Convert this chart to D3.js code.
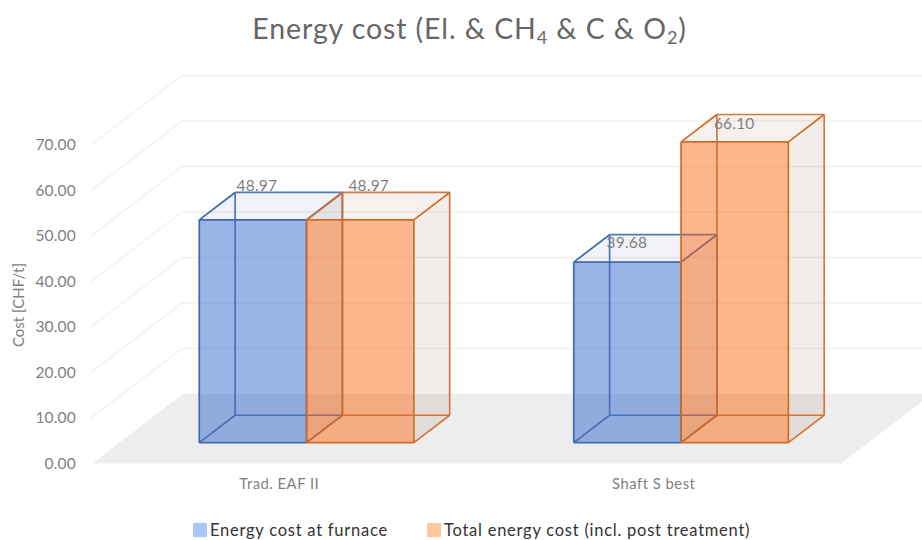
<!DOCTYPE html>
<html>
<head>
<meta charset="utf-8">
<script src="https://d3js.org/d3.v7.min.js"></script>
<style>
	html, body { margin: 0; padding: 0; background: #fff; }
	svg { display: block; font-family: Lato, "Open Sans", sans-serif; }
	.tick text { fill: #7f7f7f; }
</style>
</head>
<body>
<div id="chart"></div>
<script>

// data
const categories = ["Trad. EAF II", "Shaft S best"];
const seriesNames = ["Energy cost at furnace", "Total energy cost (incl. post treatment)"];
const furnaceCost = [48.97, 39.68];
const totalCost = [48.97, 66.10];
const yTicks = [0, 10, 20, 30, 40, 50, 60, 70];

const seriesValues = [furnaceCost, totalCost];

// one look per series: legend swatch, front fill, shaded faces, edges
const looks = [
	{swatch: "#a9c7f8", fill: "#1e5ccc", shade: "#2a4a90", edge: "#4069b4"},
	{swatch: "#fdc89f", fill: "#fd5d00", shade: "#7a3a10", edge: "#d06c2a"}
];

const width = 922, height = 540;

// floor of the 3d plot: front left corner, and how far the depth axis runs
const floor = {left: 92, right: 841, front: 463.5, depthX: 91, depthY: 69.5};
const barDepth = {front: 0.3, back: 0.694};

const svg = d3.select("#chart").append("svg")
	.attr("width", width)
	.attr("height", height);

const x = d3.scaleBand()
	.domain(categories)
	.range([floor.left, floor.right])
	.paddingInner(0.427)
	.paddingOuter(0.2135);

const xInner = d3.scaleBand()
	.domain(seriesNames)
	.range([0, x.bandwidth()]);

const y = d3.scaleLinear()
	.domain([0, 70])
	.range([floor.front, floor.front - 318.5]);

// project (x on the front plane, value, depth 0..1) to the screen
function project(px, value, depth) {
	return [px + depth * floor.depthX, y(value) - depth * floor.depthY];
}

const line = d3.line();

// walls
const grid = svg.append("g").attr("stroke", "#f0f0f0").attr("stroke-width", 1.3).attr("fill", "none");

yTicks.filter(d => d > 0).forEach(function(t) {
	grid.append("path").attr("d", line([project(floor.left - 1, t, 0), project(floor.left - 1, t, 1)]));
	grid.append("path").attr("d", line([project(floor.left - 1, t, 1), project(floor.right + 300, t, 1)]));
});

// floor
svg.append("path")
	.attr("fill", "#ededed")
	.attr("d", line([
		project(floor.left, 0, 0),
		project(floor.left, 0, 1),
		project(floor.right, 0, 1),
		project(floor.right, 0, 0)
	]) + "Z");

// bars
function drawBox(g, x0, x1, value, look) {
	let d0 = barDepth.front, d1 = barDepth.back;

	let fl0 = project(x0, 0, d0), fr0 = project(x1, 0, d0), bl0 = project(x0, 0, d1), br0 = project(x1, 0, d1);
	let fl1 = project(x0, value, d0), fr1 = project(x1, value, d0), bl1 = project(x0, value, d1), br1 = project(x1, value, d1);

	let face = (pts, fill, opacity) => g.append("path")
		.attr("d", line(pts) + "Z")
		.attr("fill", fill)
		.attr("fill-opacity", opacity);

	face([fr0, br0, br1, fr1], look.shade, 0.09);
	face([fl1, bl1, br1, fr1], look.shade, 0.07);
	face([fl0, fr0, fr1, fl1], look.fill, 0.45);

	let edges = (list, opacity) => list.forEach(pts => g.append("path")
		.attr("d", line(pts))
		.attr("fill", "none")
		.attr("stroke", look.edge)
		.attr("stroke-opacity", opacity)
		.attr("stroke-width", 1.7));

	// back edges first
	edges([[bl0, bl1], [bl0, br0], [br0, br1], [bl1, br1], [fl0, bl0], [fr0, br0]], 0.9);
	edges([[fl1, bl1], [fr1, br1], [fl0, fr0], [fr0, fr1], [fr1, fl1], [fl1, fl0]], 1);
}

seriesNames.forEach(function(name, s) {
	let g = svg.append("g").attr("class", "series");
	categories.forEach(function(cat, c) {
		let x0 = x(cat) + xInner(name);
		drawBox(g, x0, x0 + xInner.bandwidth(), seriesValues[s][c], looks[s]);
	});
});

// value labels, Excel places them a little off the back edge
const labelNudge = [[[1.5, -6.5], [-3, 8]], [[6, -6.5], [-3, 9.5]]];

seriesNames.forEach(function(name, s) {
	categories.forEach(function(cat, c) {
		let v = seriesValues[s][c];
		let p = project(x(cat) + xInner(name), v, barDepth.back);
		svg.append("text")
			.attr("x", p[0] + labelNudge[s][c][0])
			.attr("y", p[1] + labelNudge[s][c][1])
			.attr("dy", "0.35em")
			.attr("font-size", 15.5)
			.attr("letter-spacing", 0.2)
			.attr("fill", "#808080")
			.text(v.toFixed(2));
	});
});

// axes
svg.append("g")
	.attr("transform", "translate(81,0)")
	.call(d3.axisLeft(y).tickValues(yTicks).tickSize(0).tickPadding(5).tickFormat(d3.format(".2f")))
	.call(g => g.select(".domain").remove())
	.selectAll("text")
	.attr("font-family", "Lato")
	.attr("letter-spacing", 0.2)
	.attr("font-size", 15.5);

svg.append("g")
	.attr("transform", "translate(0,472)")
	.call(d3.axisBottom(x).tickSize(0).tickPadding(6))
	.call(g => g.select(".domain").remove())
	.selectAll("text")
	.attr("font-family", "Lato")
	.attr("letter-spacing", 0.5)
	.attr("font-size", 14.8);

svg.append("text")
	.attr("transform", "translate(23.5,305) rotate(-90)")
	.attr("text-anchor", "middle")
	.attr("font-size", 15)
	.attr("fill", "#808080")
	.text("Cost [CHF/t]");

// title with subscripts
const title = svg.append("text")
	.attr("x", 469.5)
	.attr("y", 39)
	.attr("text-anchor", "middle")
	.attr("font-size", 28.5)
	.attr("letter-spacing", 0.9)
	.attr("fill", "#666");

title.append("tspan").text("Energy cost (El. & CH");
title.append("tspan").attr("font-size", 18).attr("dy", 5).text("4");
title.append("tspan").attr("dy", -5).text(" & C & O");
title.append("tspan").attr("font-size", 18).attr("dy", 5).text("2");
title.append("tspan").attr("dy", -5).text(")");

// legend
const legendX = [193, 427];

seriesNames.forEach(function(name, s) {
	svg.append("rect")
		.attr("x", legendX[s])
		.attr("y", 523)
		.attr("width", 14)
		.attr("height", 14)
		.attr("fill", looks[s].swatch);
	svg.append("text")
		.attr("x", legendX[s] + 17)
		.attr("y", 530)
		.attr("dy", "0.35em")
		.attr("font-size", 16.5)
		.attr("letter-spacing", 0.75)
		.attr("fill", "#333")
		.text(name);
});

</script>
</body>
</html>
